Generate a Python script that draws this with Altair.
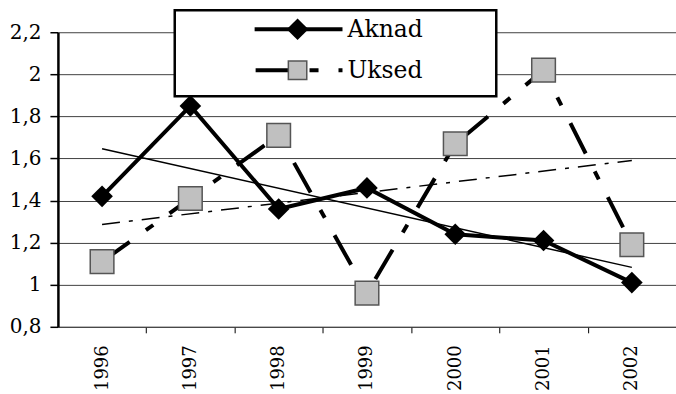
import altair as alt
import pandas as pd

years = [1996, 1997, 1998, 1999, 2000, 2001, 2002]
aknad = [1.42, 1.85, 1.36, 1.46, 1.24, 1.21, 1.01]
uksed = [1.11, 1.41, 1.71, 0.96, 1.67, 2.02, 1.19]
y_ticks = [0.8, 1.0, 1.2, 1.4, 1.6, 1.8, 2.0, 2.2]
x_ticks = [1996, 1996.5, 1997, 1997.5, 1998, 1998.5, 1999, 1999.5,
           2000, 2000.5, 2001, 2001.5, 2002]

df = pd.DataFrame(
    {"year": years * 2,
     "series": ["Aknad"] * len(years) + ["Uksed"] * len(years),
     "value": aknad + uksed}
)

FONT = "DejaVu Serif"

xscale = alt.Scale(domain=[1995.5, 2002.5], nice=False, zero=False)
yscale = alt.Scale(domain=[0.8, 2.2], nice=False, zero=False)

yaxis = alt.Axis(values=y_ticks, grid=True, gridColor="#404040", gridWidth=1,
                 domainColor="black", domainWidth=2.5, tickColor="black",
                 tickSize=8, tickWidth=1.5, labelFont=FONT, labelFontSize=20,
                 labelColor="black", labelPadding=9, title=None,
                 labelExpr="replace(format(datum.value, '.1~f'), '.', ',')")

xaxis = alt.Axis(values=x_ticks, labelAngle=-90, grid=False,
                 tickSize=6, tickColor="black", tickWidth=1,
                 tickOpacity={"condition": {"test": "datum.value % 1 == 0", "value": 0}, "value": 1},
                 domain=True, domainColor="#404040", domainWidth=1,
                 labelFont=FONT, labelFontSize=18, labelColor="black",
                 labelPadding=12, labelOverlap=False, labelFlush=False, title=None,
                 labelExpr="datum.value % 1 == 0 ? format(datum.value, 'd') : ''")

base = alt.Chart(df)


def X():
    return alt.X("year:Q", scale=xscale, axis=xaxis)


Y = alt.Y("value:Q", scale=yscale, axis=yaxis)

uksed_line = base.transform_filter(alt.datum.series == "Uksed").mark_line(
    color="black", strokeWidth=4, strokeDash=[34, 20, 9, 20]
).encode(x=X(), y=Y)

aknad_line = base.transform_filter(alt.datum.series == "Aknad").mark_line(
    color="black", strokeWidth=4
).encode(x=X(), y=Y)

aknad_trend = base.transform_filter(alt.datum.series == "Aknad").transform_regression(
    "year", "value"
).mark_line(color="black", strokeWidth=1.5).encode(x=X(), y=Y)

uksed_trend = base.transform_filter(alt.datum.series == "Uksed").transform_regression(
    "year", "value"
).mark_line(color="black", strokeWidth=1.5, strokeDash=[18, 9, 4, 9]).encode(x=X(), y=Y)

aknad_pts = base.transform_filter(alt.datum.series == "Aknad").mark_point(
    shape="diamond", filled=True, color="black", size=470, opacity=1
).encode(x=X(), y=Y)

uksed_pts = base.transform_filter(alt.datum.series == "Uksed").mark_point(
    shape="square", filled=True, fill="#C0C0C0", stroke="#555555", strokeWidth=1.5,
    size=560, opacity=1
).encode(x=X(), y=Y)

one = alt.Data(values=[{"k": 1}])

leg_box = alt.Chart(one).mark_rect(fill="white", stroke="black", strokeWidth=2.5).encode(
    x=alt.value(117), x2=alt.value(439), y=alt.value(-22), y2=alt.value(64)
)
leg_line_a = alt.Chart(one).mark_rule(color="black", strokeWidth=4).encode(
    x=alt.value(197), x2=alt.value(285), y=alt.value(-3)
)
leg_line_u = alt.Chart(one).mark_rule(color="black", strokeWidth=4,
                                      strokeDash=[34, 20, 9, 20]).encode(
    x=alt.value(198), x2=alt.value(285), y=alt.value(38)
)
leg_pt_a = alt.Chart(one).mark_point(shape="diamond", filled=True, color="black",
                                     size=470, opacity=1).encode(
    x=alt.value(240), y=alt.value(-3)
)
leg_pt_u = alt.Chart(one).mark_point(shape="square", filled=True, fill="#C0C0C0",
                                     stroke="#555555", strokeWidth=1.5, size=340,
                                     opacity=1).encode(
    x=alt.value(240), y=alt.value(38)
)
leg_txt_a = alt.Chart(one).mark_text(text="Aknad", font=FONT, fontSize=23.5, align="left",
                                     baseline="middle", color="black").encode(
    x=alt.value(290), y=alt.value(-2)
)
leg_txt_u = alt.Chart(one).mark_text(text="Uksed", font=FONT, fontSize=23.5, align="left",
                                     baseline="middle", color="black").encode(
    x=alt.value(290), y=alt.value(39)
)

chart = alt.layer(
    uksed_line, aknad_line, aknad_trend, uksed_trend, aknad_pts, uksed_pts,
    leg_box, leg_line_a, leg_line_u, leg_pt_a, leg_pt_u, leg_txt_a, leg_txt_u
).properties(
    width=619, height=295,
    padding={"left": 58, "top": 32, "right": 0, "bottom": 67},
    autosize=alt.AutoSizeParams(type="none"),
    background="white",
).configure_view(stroke=None)

chart.save("out.html", embed_options={"renderer": "svg", "actions": False})
